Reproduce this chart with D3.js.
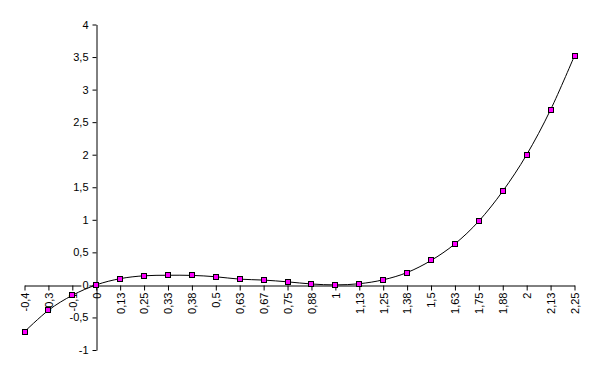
<!DOCTYPE html>
<html>
<head>
<meta charset="utf-8">
<script src="https://cdn.jsdelivr.net/npm/d3@7"></script>
<style>
  body { margin: 0; background: #fff; }
  text { font-family: "Liberation Sans", Arial, sans-serif; font-size: 11px; }
</style>
</head>
<body>
<div id="chart"></div>
<script>
// category labels (rounded x values as shown on the axis)
var xLabels = ["-0,4", "-0,3", "-0,1", "0", "0,13", "0,25", "0,33", "0,38", "0,5", "0,63", "0,67", "0,75",
  "0,88", "1", "1,13", "1,25", "1,38", "1,5", "1,63", "1,75", "1,88", "2", "2,13", "2,25"];

// y values
var yValues = [-0.72, -0.39, -0.16, 0, 0.096, 0.14, 0.148, 0.146, 0.125, 0.088, 0.074, 0.047,
  0.014, 0, 0.018, 0.078, 0.19, 0.375, 0.63, 0.98, 1.44, 2.0, 2.69, 3.52];

var yTicks = [-1, -0.5, 0, 0.5, 1, 1.5, 2, 2.5, 3, 3.5, 4];

var width = 600, height = 375;

var svg = d3.select("#chart")
  .append("svg")
  .attr("width", width)
  .attr("height", height);

var x = d3.scalePoint()
  .domain(d3.range(xLabels.length))
  .range([24.5, 574.5]);

var y = d3.scaleLinear()
  .domain([-1, 4])
  .range([350, 24.5]);

var fmt = function(d) { return String(d).replace(".", ","); };

// x axis sits on y = 0
var xAxis = svg.append("g")
  .attr("transform", "translate(0," + Math.round(y(0)) + ".5)")
  .call(d3.axisBottom(x).tickSize(5).tickSizeOuter(0).tickFormat(function(i) { return xLabels[i]; }));
xAxis.select(".domain").attr("stroke", "#000");
xAxis.selectAll(".tick line").attr("stroke", "#000");
xAxis.selectAll(".tick text")
  .attr("transform", "rotate(-90)")
  .attr("text-anchor", "end")
  .attr("x", -7)
  .attr("y", 0)
  .attr("dy", "0.35em")
  .attr("fill", "#000");

// y axis crosses at category "0"
var y0x = Math.round(x(3)) + 0.5;
var yAxis = svg.append("g")
  .attr("transform", "translate(" + y0x + ",0)")
  .call(d3.axisLeft(y).tickValues(yTicks).tickSize(4).tickSizeOuter(0).tickFormat(fmt));
yAxis.select(".domain").attr("stroke", "#000");
yAxis.selectAll(".tick line").attr("stroke", "#000");
yAxis.selectAll(".tick text").attr("x", -8).attr("fill", "#000");

// white box behind y labels, like the spreadsheet does
yAxis.selectAll(".tick").each(function() {
  var t = d3.select(this).select("text");
  var b = t.node().getBBox();
  d3.select(this).insert("rect", "text")
    .attr("x", b.x - 1)
    .attr("y", b.y)
    .attr("width", b.width + 2)
    .attr("height", b.height)
    .attr("fill", "#fff");
});

// smoothed line
var line = d3.line()
  .x(function(d, i) { return x(i); })
  .y(function(d) { return y(d); })
  .curve(d3.curveCatmullRom.alpha(0));

svg.append("path")
  .datum(yValues)
  .attr("d", line)
  .attr("fill", "none")
  .attr("stroke", "#000")
  .attr("stroke-width", 1);

// markers
svg.append("g")
  .selectAll("rect")
  .data(yValues)
  .enter()
  .append("rect")
  .attr("x", function(d, i) { return Math.round(x(i)) - 3 + 0.5; })
  .attr("y", function(d) { return Math.round(y(d)) - 3 + 0.5; })
  .attr("width", 5)
  .attr("height", 5)
  .attr("fill", "#ff00ff")
  .attr("stroke", "#000")
  .attr("stroke-width", 1);
</script>
</body>
</html>
